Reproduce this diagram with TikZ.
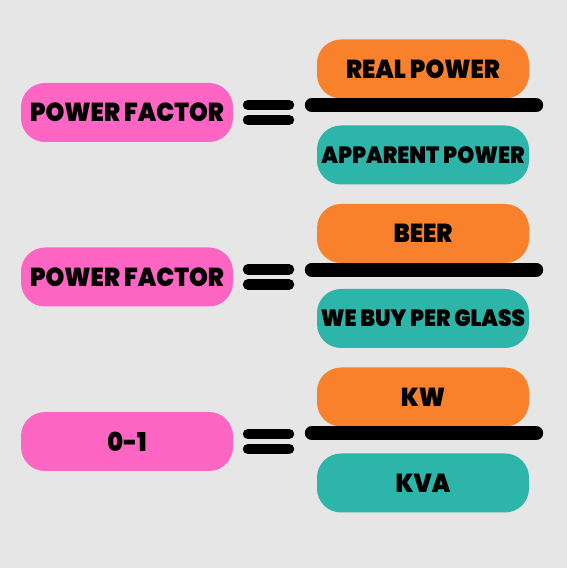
\documentclass[tikz,border=0pt]{standalone}
\usepackage{fontspec}
\usepackage{xcolor}
\usepackage{tikz}
\usetikzlibrary{positioning, calc}
\newfontfamily\heavyfont{Poppins Black}[FakeStretch=0.92]
\definecolor{bggray}{HTML}{E6E6E6}
\definecolor{pfpink}{HTML}{FF66C4}
\definecolor{numorange}{HTML}{F9812C}
\definecolor{denteal}{HTML}{2DB5AA}
\tikzset{
  pinkbox/.style={rectangle, fill=pfpink, rounded corners=24pt,
                  minimum width=212pt, minimum height=59pt, inner sep=0pt,
                  font=\heavyfont\fontsize{26}{28}\selectfont},
  topbox/.style={rectangle, fill=numorange, rounded corners=24pt,
                 minimum width=212pt, minimum height=59pt, inner sep=0pt,
                 font=\heavyfont\fontsize{26}{28}\selectfont},
  botbox/.style={rectangle, fill=denteal, rounded corners=24pt,
                 minimum width=212pt, minimum height=59pt, inner sep=0pt,
                 font=\heavyfont\fontsize{26}{28}\selectfont},
  longtext/.style={font=\heavyfont\fontsize{23.5}{26}\selectfont},
  eqbar/.style={line width=10.5pt, line cap=round, black},
  fracbar/.style={line width=14pt, line cap=round, black},
}

\begin{document}
\begin{tikzpicture}[x=1pt, y=1pt]
  % Background
  \fill [bggray] (0,0) rectangle (567,568);
  \useasboundingbox (0,0) rectangle (567,568);

  % First row
  \node [pinkbox] (pf1) at (127,455.5) {POWER FACTOR};
  \node [topbox] (num1) at (423,499) {REAL POWER};
  \node [botbox, longtext] (den1) at (423,413) {APPARENT POWER};
  \coordinate (eq1) at (268.5,455.5);
  \draw [eqbar] ($(eq1)+(-20.5,7.5)$) -- ($(eq1)+(20.5,7.5)$);
  \draw [eqbar] ($(eq1)+(-20.5,-7.5)$) -- ($(eq1)+(20.5,-7.5)$);
  \draw [fracbar] ($(num1.south west)+(-5,-6.5)$) -- ($(num1.south east)+(7,-6.5)$);

  % Second row
  \node [pinkbox] (pf2) at (127,291) {POWER FACTOR};
  \node [topbox] (num2) at (423,334.5) {BEER};
  \node [botbox, longtext] (den2) at (423,249.5) {WE BUY PER GLASS};
  \coordinate (eq2) at (268.5,291);
  \draw [eqbar] ($(eq2)+(-20.5,7.5)$) -- ($(eq2)+(20.5,7.5)$);
  \draw [eqbar] ($(eq2)+(-20.5,-7.5)$) -- ($(eq2)+(20.5,-7.5)$);
  \draw [fracbar] ($(num2.south west)+(-5,-6.5)$) -- ($(num2.south east)+(7,-6.5)$);

  % Third row
  \node [pinkbox] (pf3) at (127,126.5) {0-1};
  \node [topbox] (num3) at (423,171) {KW};
  \node [botbox] (den3) at (423,85) {KVA};
  \coordinate (eq3) at (268.5,126.5);
  \draw [eqbar] ($(eq3)+(-20.5,7.5)$) -- ($(eq3)+(20.5,7.5)$);
  \draw [eqbar] ($(eq3)+(-20.5,-7.5)$) -- ($(eq3)+(20.5,-7.5)$);
  \draw [fracbar] ($(num3.south west)+(-5,-6.5)$) -- ($(num3.south east)+(7,-6.5)$);
\end{tikzpicture}
\end{document}
